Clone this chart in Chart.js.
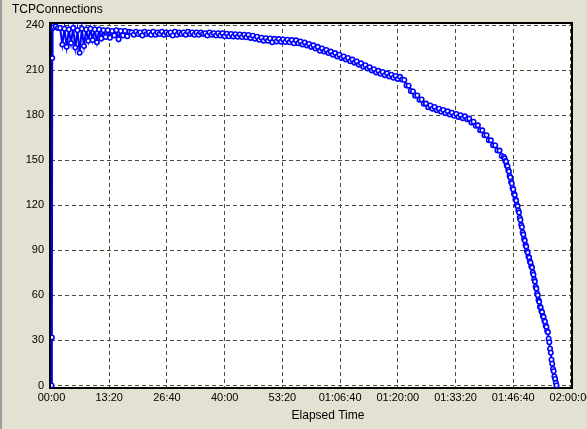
<!DOCTYPE html>
<html>
<head>
<meta charset="utf-8">
<script src="https://cdn.jsdelivr.net/npm/chart.js@4/dist/chart.umd.min.js"></script>
<style>
  html, body { margin: 0; padding: 0; background: #E3E1D1; }
  #wrap { width: 587px; height: 429px; position: relative; }
  canvas { display: block; }
</style>
</head>
<body>
<div id="wrap"><canvas id="c" width="587" height="429"></canvas></div>
<script>
// ---- Data ----
const chartTitle = 'TCPConnections';
const xAxisTitle = 'Elapsed Time';

// initial ramp-up samples (seconds, connections)
const rampTimes  = [0, 5, 10, 15];
const rampValues = [0, 32, 218, 238];

// main samples every 30 s starting at 30 s
const stepA = 30, startA = 30;
const connectionsA = [
  238.5, 239, 238,
  238, 227, 237.5, 225.5, 237, 228, 238, 225, 236.5, 221.5,
  237.5, 226, 237, 229.5, 237.5, 230, 237, 228.5, 237, 231,
  236.5, 232, 236.5, 231.5, 236, 233, 236.5, 230.5, 236, 233,
  236, 232.5, 235.5,
  235, 233.5, 235.5, 234, 235, 233, 235.5, 234, 235, 233.5,
  235.5, 233.5, 235, 234, 235.5, 233.5, 235, 234, 235, 233,
  235.5, 233.5, 235, 234, 235, 233.5, 235.5, 234, 235, 233.5,
  235, 233.5, 235, 234, 234.5, 233, 235, 233.5, 234.5, 233,
  234.5, 233, 234.5, 232.5,
  234.2, 232.5, 234, 232.4, 233.9, 232.2, 233.7, 232, 233.5, 231.8,
  233.4, 231.4, 232.9, 230.9, 232.2, 230.1, 231.5, 229.6, 231.2, 229.5,
  231, 228.5, 230.8, 229.1, 230.6, 228.9, 230.4, 228.7, 230.2, 228.5,
  230, 227.8, 229.8, 227.9, 229.1, 227.1, 228.3, 226.3, 227.4, 225.4,
  226.5, 224.4, 225.5, 222.8, 224.4, 222.3, 223.4, 221.3, 222.3, 220.2,
  221.3, 219.1, 220.2, 218.1, 219.1, 217, 218.1, 215.9, 217, 214.8,
  215.7, 213.5, 214.5, 212.2, 213.2, 211, 211.9, 209.7, 210.6, 208.4,
  209.5, 207.5, 208.7, 206.6, 207.8, 205.8, 206.9, 204.9, 206.1, 204.1,
  205.5, 203.7, 203.4, 199.8, 199.6, 196.1, 195.8, 192.9, 193.1, 190.2,
  190.4, 187.5, 187.7, 185.3, 186.4, 184.3, 185.4, 183.3, 184.3, 182.2,
  183.4, 181.3, 182.5, 180.4, 181.6, 179.6, 180.8, 178.8, 180, 178,
  179.2, 177.2, 177.7, 175.1, 175.6, 172.9, 173.2, 170, 169.9, 166.6,
  166.6, 163.3, 163.2, 159.9, 159.8, 156.5, 156.4, 152.8, 152.2
];

// final steep drop, samples every 10 s starting at 6280 s
const stepB = 10, startB = 6280;
const connectionsB = [
  151.2, 149.5, 149, 146.5, 146, 143.5, 142.5, 139.5, 138.5, 135.5,
  134.5, 131.5, 130.5, 127.6, 126.8, 123.9, 123.1, 120.2, 119.4, 116.5,
  115.1, 111.6, 110.2, 106.8, 105.4, 101.9, 100.5, 97.5, 96.5, 93.5,
  92.5, 89.5, 88.5, 85.8, 85.2, 82.5, 81.8, 79.2, 78.5, 75.2,
  73.8, 70.5, 69.2, 65.8, 64.5, 61.3, 60.1, 56.9, 55.7, 52.5,
  51.9, 49.4, 48.8, 46.2, 45.6, 43.1, 42.5, 39.8, 39, 36.3,
  35.5, 31.2, 28.8, 24.5, 21.8, 17.2, 14.5, 11, 9.5, 6,
  4.4, 1.8, 0
];

const xTickValues = [0, 800, 1600, 2400, 3200, 4000, 4800, 5600, 6400, 7200];
const xTickLabels = ['00:00', '13:20', '26:40', '40:00', '53:20',
                     '01:06:40', '01:20:00', '01:33:20', '01:46:40', '02:00:00'];
const yTickValues = [0, 30, 60, 90, 120, 150, 180, 210, 240];

// ---- Build points ----
const points = [];
rampTimes.forEach((t, i) => points.push({ x: t, y: rampValues[i] }));
connectionsA.forEach((v, i) => points.push({ x: startA + stepA * i, y: v }));
connectionsB.forEach((v, i) => points.push({ x: startB + stepB * i, y: v }));

const FONT = 'Liberation Sans, Arial, sans-serif';
const GRID = '#4e4c36';

const framePlugin = {
  id: 'frame',
  beforeDraw(chart) {
    const { ctx, chartArea: a } = chart;
    ctx.save();
    ctx.fillStyle = '#E3E1D1';
    ctx.fillRect(0, 0, chart.width, chart.height);
    ctx.fillStyle = '#9c9c9c';
    ctx.fillRect(0, 0, 2, chart.height);
    ctx.fillStyle = '#ffffff';
    ctx.fillRect(a.left, a.top, a.right - a.left, a.bottom - a.top);
    ctx.restore();
  },
  beforeDatasetsDraw(chart) {
    const { ctx, chartArea: a } = chart;
    ctx.save();
    ctx.strokeStyle = '#000';
    ctx.lineWidth = 2;
    ctx.beginPath();
    ctx.moveTo(a.left, a.top + 1); ctx.lineTo(a.right, a.top + 1);
    ctx.moveTo(a.right - 1, a.top); ctx.lineTo(a.right - 1, a.bottom + 1);
    ctx.moveTo(a.left - 2, a.bottom); ctx.lineTo(a.right, a.bottom);
    ctx.stroke();
    ctx.lineWidth = 3;
    ctx.beginPath();
    ctx.moveTo(a.left - 0.5, a.top); ctx.lineTo(a.left - 0.5, a.bottom + 1);
    ctx.stroke();
    ctx.restore();
  },
  afterDraw(chart) {
    const { ctx } = chart;
    ctx.save();
    ctx.fillStyle = '#000';
    ctx.font = '12px ' + FONT;
    ctx.textBaseline = 'alphabetic';
    ctx.textAlign = 'left';
    ctx.fillText(chartTitle, 12, 13);
    ctx.textAlign = 'center';
    ctx.fillText(xAxisTitle, 328, 419);
    ctx.restore();
  }
};

new Chart(document.getElementById('c'), {
  type: 'line',
  data: {
    datasets: [{
      data: points,
      borderColor: '#0000ff',
      borderWidth: 2,
      pointRadius: 2.2,
      pointBorderWidth: 1.6,
      pointBorderColor: '#0000ff',
      pointBackgroundColor: '#ffffff',
      pointHoverRadius: 2.2,
      tension: 0,
      fill: false
    }]
  },
  options: {
    responsive: false,
    animation: false,
    devicePixelRatio: 1,
    layout: { padding: { top: 22, right: 14, left: 0, bottom: 0 } },
    plugins: { legend: { display: false }, tooltip: { enabled: false }, title: { display: false } },
    scales: {
      x: {
        type: 'linear',
        min: -7,
        max: 7228,
        afterBuildTicks: s => { s.ticks = xTickValues.map(v => ({ value: v })); },
        afterFit: s => { s.height = 41; s.paddingLeft = 0; s.paddingRight = 0; },
        ticks: {
          autoSkip: false, maxRotation: 0, minRotation: 0,
          padding: 3, color: '#000',
          font: { family: FONT, size: 11 },
          callback: (v, i) => xTickLabels[i]
        },
        grid: { color: GRID, lineWidth: 1, drawTicks: false },
        border: { display: false, dash: [4, 3] }
      },
      y: {
        type: 'linear',
        min: -1.66,
        max: 242,
        afterBuildTicks: s => { s.ticks = yTickValues.map(v => ({ value: v })); },
        afterFit: s => { s.width = 51; s.paddingTop = 0; s.paddingBottom = 0; },
        ticks: {
          padding: 7, color: '#000',
          font: { family: FONT, size: 11 },
          callback: (v, i) => String(yTickValues[i])
        },
        grid: { color: GRID, lineWidth: 1, drawTicks: false },
        border: { display: false, dash: [4, 3] }
      }
    }
  },
  plugins: [framePlugin]
});
</script>
</body>
</html>
